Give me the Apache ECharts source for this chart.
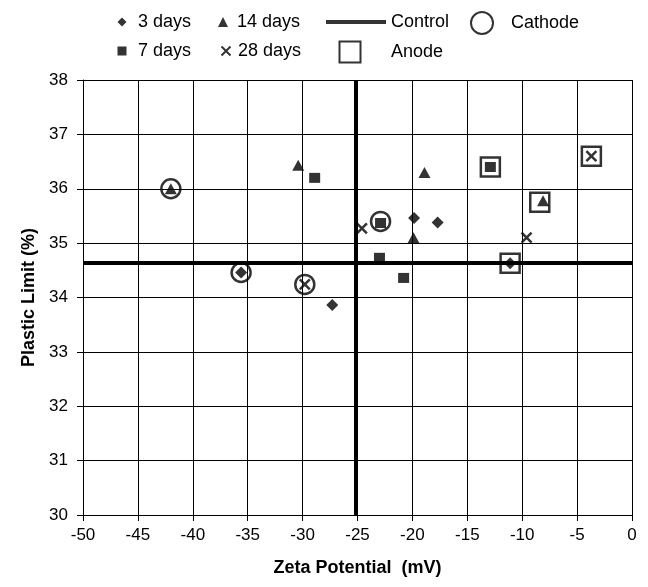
<!DOCTYPE html>
<html>
<head>
<meta charset="utf-8">
<script src="https://cdn.jsdelivr.net/npm/echarts@6/dist/echarts.min.js"></script>
<style>
  html, body { margin: 0; padding: 0; background: #fff; }
  #chart { width: 648px; height: 587px; }
</style>
</head>
<body>
<div id="chart"></div>
<script>
// Zeta potential (mV) vs plastic limit (%) by curing time
const days3  = [[-35.6, 34.46], [-27.3, 33.86], [-19.85, 35.46], [-17.7, 35.38], [-11.1, 34.63]];
const days7  = [[-28.9, 36.2], [-22.9, 35.37], [-23.0, 34.73], [-20.8, 34.36], [-12.9, 36.4]];
const days14 = [[-42.0, 36.0], [-30.4, 36.43], [-18.9, 36.3], [-19.9, 35.1], [-8.1, 35.78]];
const days28 = [[-29.8, 34.24], [-24.6, 35.27], [-9.6, 35.1], [-3.7, 36.6]];
// Samples taken near the electrodes
const cathode = [[-42.0, 36.0], [-35.6, 34.46], [-29.8, 34.24], [-22.9, 35.4]];
const anode   = [[-12.9, 36.4], [-11.1, 34.63], [-8.4, 35.75], [-3.7, 36.6]];
// Untreated control
const controlZeta = -25.2;
const controlPL = 34.63;

const xRange = [-50, 0, 5];
const yRange = [30, 38, 1];

const FONT = 'Liberation Sans, Arial, sans-serif';
const ICON = {
  diamond: 'path://M5,0L10,5L5,10L0,5Z',
  square: 'path://M0,0L10,0L10,10L0,10Z',
  triangle: 'path://M5,0L10,10L0,10Z',
  cross: 'path://M0,0L10,10M10,0L0,10',
  circle: 'path://M0,10A10,10,0,1,1,20,10A10,10,0,1,1,0,10Z',
  bar: 'path://M0,0L60,0L60,4L0,4Z'
};

const solid = { color: '#000', borderWidth: 0 };
const hollow = (w) => ({ color: 'transparent', borderColor: '#000', borderWidth: w });

// One legend box per entry: icon of size s centred at cx, label starting at tx.
// The box is laid out from the icon's own bounds, so the label sits at
// left + (itemWidth + s) / 2 + 5.
function legendItem(name, icon, cx, tx, centerY, s, h, style) {
  const left = cx - s / 2;
  const w = 2 * (tx - left - 5) - s;
  const boxH = Math.max(h, 18);
  return {
    data: [{ name: name, icon: icon }],
    left: left, top: centerY - boxH / 2,
    itemWidth: w, itemHeight: h,
    padding: 0,
    selectedMode: false,
    symbolKeepAspect: true,
    itemStyle: style,
    textStyle: { fontSize: 18, fontFamily: FONT, color: '#000' }
  };
}

const chart = echarts.init(document.getElementById('chart'), null, { renderer: 'canvas' });

chart.setOption({
  animation: false,
  backgroundColor: '#fff',
  textStyle: { fontFamily: FONT },
  legend: [
    legendItem('3 days', ICON.diamond, 122, 138, 22, 9, 9, solid),
    legendItem('7 days', ICON.square, 122, 138, 51, 9, 9, solid),
    legendItem('14 days', ICON.triangle, 223, 237, 22, 10, 10, solid),
    legendItem('28 days', ICON.cross, 225, 237, 51, 9, 9, hollow(2)),
    {
      data: [{ name: 'Control', icon: ICON.bar }],
      left: 326, top: 22 - 9,
      itemWidth: 60, itemHeight: 4,
      padding: 0, selectedMode: false,
      itemStyle: solid,
      textStyle: { fontSize: 18, fontFamily: FONT, color: '#000' }
    },
    legendItem('Anode', ICON.square, 349, 390, 51, 21, 21, hollow(2)),
    legendItem('Cathode', ICON.circle, 481, 510, 22, 22, 22, hollow(2))
  ],
  grid: { left: 83, right: 16, top: 80, bottom: 72 },
  xAxis: {
    type: 'value',
    min: xRange[0], max: xRange[1], interval: xRange[2],
    name: 'Zeta Potential  (mV)',
    nameLocation: 'middle',
    nameGap: 44,
    nameTextStyle: { fontSize: 18, fontWeight: 'bold', color: '#000', fontFamily: FONT },
    axisLine: { onZero: false, lineStyle: { color: '#000', width: 1 } },
    axisTick: { show: true, inside: false, length: 6, lineStyle: { color: '#000' } },
    axisLabel: { fontSize: 17, color: '#000', margin: 12, fontFamily: FONT },
    splitLine: { show: true, lineStyle: { color: '#000', width: 1 } }
  },
  yAxis: {
    type: 'value',
    min: yRange[0], max: yRange[1], interval: yRange[2],
    name: 'Plastic Limit (%)',
    nameLocation: 'middle',
    nameGap: 44,
    nameTextStyle: { fontSize: 18, fontWeight: 'bold', color: '#000', fontFamily: FONT },
    axisLine: { onZero: false, lineStyle: { color: '#000', width: 1 } },
    axisTick: { show: true, inside: false, length: 6, lineStyle: { color: '#000' } },
    axisLabel: { fontSize: 17, color: '#000', margin: 15, fontFamily: FONT },
    splitLine: { show: true, lineStyle: { color: '#000', width: 1 } }
  },
  series: [
    {
      name: 'Control', type: 'scatter', data: [],
      itemStyle: { color: '#000' },
      markLine: {
        silent: true, symbol: 'none', animation: false,
        label: { show: false },
        lineStyle: { color: '#000', width: 4, type: 'solid' },
        emphasis: { disabled: true },
        data: [{ xAxis: controlZeta }, { yAxis: controlPL }]
      },
      z: 3
    },
    {
      name: '3 days', type: 'scatter', data: days3,
      symbol: 'diamond', symbolSize: 12,
      itemStyle: { color: '#000' }, z: 5
    },
    {
      name: '7 days', type: 'scatter', data: days7,
      symbol: 'rect', symbolSize: [11, 10],
      itemStyle: { color: '#000' }, z: 5
    },
    {
      name: '14 days', type: 'scatter', data: days14,
      symbol: 'triangle', symbolSize: [12, 11],
      itemStyle: { color: '#000' }, z: 5
    },
    {
      name: '28 days', type: 'scatter', data: days28,
      symbol: ICON.cross, symbolSize: 10,
      itemStyle: { color: 'transparent', borderColor: '#000', borderWidth: 2.5 }, z: 5
    },
    {
      name: 'Cathode', type: 'scatter', data: cathode,
      symbol: 'circle', symbolSize: 19,
      itemStyle: { color: 'transparent', borderColor: '#000', borderWidth: 2.5 }, z: 6
    },
    {
      name: 'Anode', type: 'scatter', data: anode,
      symbol: 'rect', symbolSize: 19,
      itemStyle: { color: 'transparent', borderColor: '#000', borderWidth: 2.5 }, z: 6
    }
  ]
});
</script>
</body>
</html>
